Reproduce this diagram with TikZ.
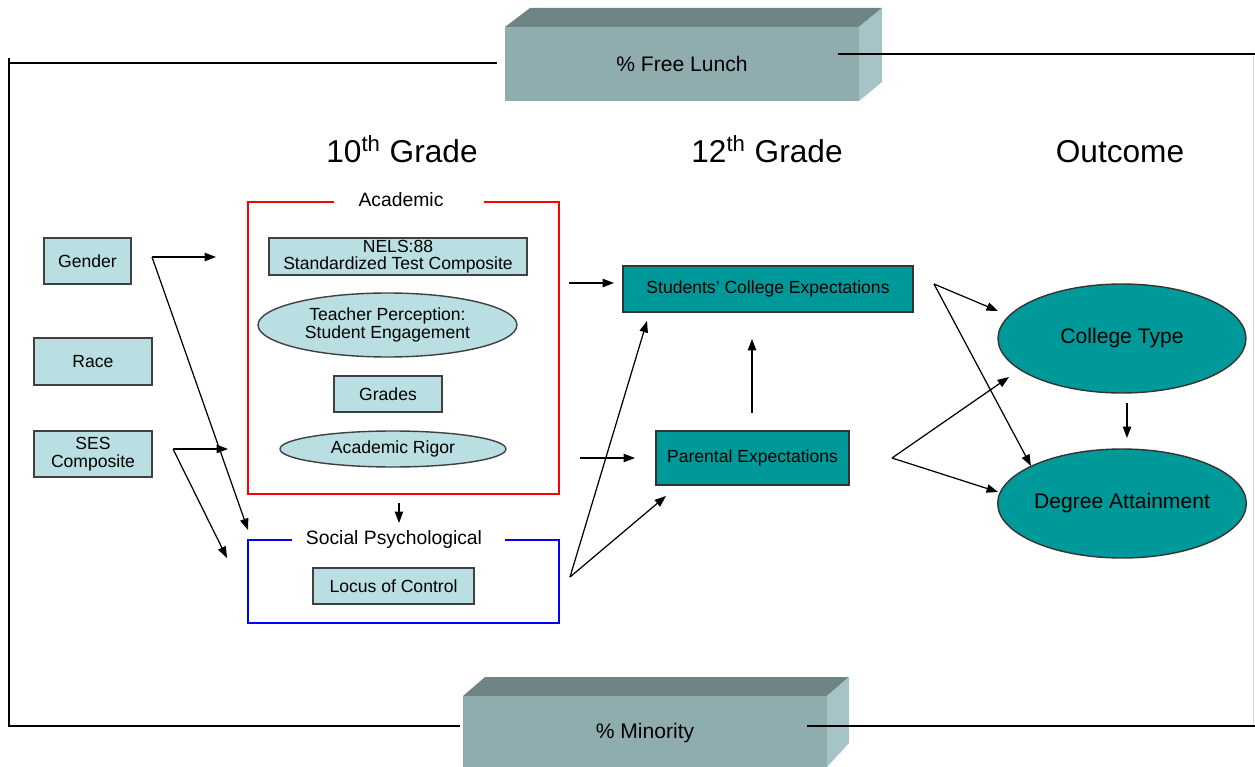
\documentclass[tikz,border=0pt]{standalone}
\usepackage{fontspec}
\setmainfont{Liberation Sans}
\usetikzlibrary{arrows.meta,shapes.geometric}
\definecolor{lightc}{RGB}{185,223,226}
\definecolor{tealc}{RGB}{0,153,153}
\definecolor{boxfront}{RGB}{143,173,175}
\definecolor{boxtop}{RGB}{111,132,133}
\definecolor{boxside}{RGB}{166,196,198}
\begin{document}
\begin{tikzpicture}[x=0.02cm,y=-0.02cm,
  sbox/.style={rectangle, draw=black!75, line width=0.8pt, fill=lightc, inner sep=0pt, align=center, font=\fontsize{10}{10}\selectfont},
  sell/.style={ellipse, draw=black!75, line width=0.8pt, fill=lightc, inner sep=0pt, align=center, font=\fontsize{10}{10}\selectfont},
  tbox/.style={rectangle, draw=black!80, line width=0.8pt, fill=tealc, inner sep=0pt, align=center, font=\fontsize{10}{10}\selectfont},
  tell/.style={ellipse, draw=black!80, line width=0.8pt, fill=tealc, inner sep=0pt, align=center, font=\fontsize{12}{12}\selectfont},
  head/.style={inner sep=0pt, anchor=base, font=\fontsize{18}{18}\selectfont},
  grp/.style={rectangle, line width=0.7pt, inner sep=0pt},
  grpgap/.style={fill=white, inner sep=0pt, minimum height=0.2cm},
  grplabel/.style={inner sep=0pt, font=\fontsize{11}{11}\selectfont},
  cube/.style={rectangle, fill=boxfront, inner sep=0pt, font=\fontsize{12}{12}\selectfont},
  arr/.style={-{Triangle[length=6.5pt,width=4.8pt]}, line width=0.7pt},
  frame/.style={line width=1.1pt, black}
]
\useasboundingbox (0,0) rectangle (1255,767);
\clip (0,0) rectangle (1255,767);

% 3D boxes
\fill[boxtop] (505,27) -- (530,8) -- (882,8) -- (859,27) -- cycle;
\fill[boxside] (859,27) -- (882,8) -- (882,82) -- (859,101) -- cycle;
\node[cube, minimum width=7.08cm, minimum height=1.48cm] (lunch) at (682,64) {\% Free Lunch};

\fill[boxtop] (463,696) -- (485,677) -- (849,677) -- (827,696) -- cycle;
\fill[boxside] (827,696) -- (849,677) -- (849,743) -- (827,767) -- cycle;
\node[cube, minimum width=7.28cm, minimum height=1.48cm] (minor) at (645,733) {\% Minority};

% frame
\coordinate (fTL) at (9,63);
\coordinate (fTop) at (9,58);
\coordinate (fBL) at (9,726);
\coordinate (fL1) at (497,63);
\coordinate (fR1) at (838,54);
\coordinate (fR2) at (1255,54);
\coordinate (fB1) at (460,726);
\coordinate (fB2) at (807,726);
\coordinate (fB3) at (1255,726);
\draw[gray!30, line width=0.8pt] (1253.5,54) -- (1253.5,726);
\draw[frame] (fTop) -- (fBL) -- (fB1);
\draw[frame] (fTL) -- (fL1);
\draw[frame] (fR1) -- (fR2);
\draw[frame] (fB2) -- (fB3);

% headings
\node[head] (h10) at (402,163) {10\textsuperscript{th} Grade};
\node[head] (h12) at (767,163) {12\textsuperscript{th} Grade};
\node[head] (hout) at (1120,163) {Outcome};

% inputs
\node[sbox, minimum width=1.74cm, minimum height=0.92cm] (gender) at (87.5,261) {Gender};
\node[sbox, minimum width=2.36cm, minimum height=0.94cm] (race) at (93,361.5) {Race};
\node[sbox, minimum width=2.36cm, minimum height=0.92cm] (ses) at (93,454) {SES\\Composite};

% groups
\node[grp, draw=red, minimum width=6.22cm, minimum height=5.84cm] (acad) at (403.5,348) {};
\node[grpgap, minimum width=3cm] (acadg) at (409,202) {};
\node[grplabel] (acadl) at (401,200) {Academic};
\node[grp, draw=blue, minimum width=6.22cm, minimum height=1.66cm] (soc) at (403.5,581.5) {};
\node[grpgap, minimum width=4.26cm] (socg) at (398.5,540) {};
\node[grplabel] (socl) at (394,539) {Social Psychological};

\node[sbox, minimum width=5.16cm, minimum height=0.74cm] (nels) at (398,256.5) {NELS:88\\Standardized Test Composite};
\node[sell, minimum width=5.18cm, minimum height=1.28cm] (teach) at (387.5,325) {Teacher Perception:\\Student Engagement};
\node[sbox, minimum width=2.16cm, minimum height=0.72cm] (grades) at (388,394) {Grades};
\node[sell, minimum width=4.52cm, minimum height=0.72cm] (rigor) at (393,449) {Academic Rigor};
\node[sbox, minimum width=3.22cm, minimum height=0.72cm] (locus) at (393.5,586) {Locus of Control};

% 12th grade
\node[tbox, minimum width=5.8cm, minimum height=0.92cm] (stud) at (768,289) {Students' College Expectations};
\node[tbox, minimum width=3.86cm, minimum height=1.08cm] (par) at (752.5,458) {Parental Expectations};

% outcome
\node[tell, minimum width=4.96cm, minimum height=2.18cm] (ctype) at (1122,338.5) {College Type};
\node[tell, minimum width=4.08cm, minimum height=2.18cm] (degree) at (1122,503.5) {Degree Attainment};

% connector coordinates
\coordinate (gS) at (152,257);
\coordinate (gE1) at (216,257);
\coordinate (gE2) at (248,530);
\coordinate (sS) at (173,449);
\coordinate (sE1) at (228,449);
\coordinate (sE2) at (227,558);
\coordinate (aS1) at (569,283);
\coordinate (aE1) at (614,283);
\coordinate (aS2) at (580,458);
\coordinate (aE2) at (635,458);
\coordinate (aS3) at (399,503);
\coordinate (aE3) at (399,523);
\coordinate (spS) at (570,577);
\coordinate (spE1) at (647,321);
\coordinate (spE2) at (666,496);
\coordinate (pS) at (752,413);
\coordinate (pE) at (752,339);
\coordinate (stS) at (934,284);
\coordinate (stE1) at (998,311);
\coordinate (stE2) at (1031,466);
\coordinate (paS) at (892,458);
\coordinate (paE1) at (1009,377);
\coordinate (paE2) at (998,492);
\coordinate (ctS) at (1127,403);
\coordinate (ctE) at (1127,438);

\draw[arr] (gS) -- (gE1);
\draw[arr] (gS) -- (gE2);
\draw[arr] (sS) -- (sE1);
\draw[arr] (sS) -- (sE2);
\draw[arr] (aS1) -- (aE1);
\draw[arr] (aS2) -- (aE2);
\draw[arr] (aS3) -- (aE3);
\draw[arr] (spS) -- (spE1);
\draw[arr] (spS) -- (spE2);
\draw[arr] (pS) -- (pE);
\draw[arr] (stS) -- (stE1);
\draw[arr] (stS) -- (stE2);
\draw[arr] (paS) -- (paE1);
\draw[arr] (paS) -- (paE2);
\draw[arr] (ctS) -- (ctE);
\end{tikzpicture}
\end{document}
